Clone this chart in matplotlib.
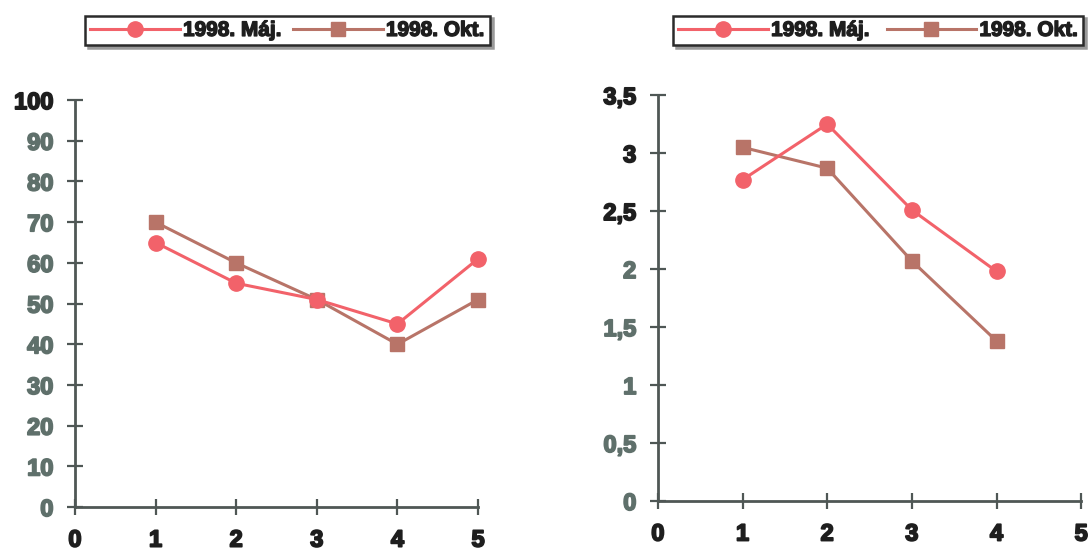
import matplotlib
matplotlib.use("Agg")
import matplotlib.pyplot as plt
import matplotlib.patheffects as pe

plt.rcParams['font.family'] = ['Liberation Sans', 'DejaVu Sans']
plt.rcParams['font.weight'] = 'bold'

# survey waves
labels = ["1998. Máj.", "1998. Okt."]
x_left = [1, 2, 3, 4, 5]
may_left = [65, 55, 51, 45, 61]
oct_left = [70, 60, 51, 40, 51]

x_right = [1, 2, 3, 4]
may_right = [2.77, 3.25, 2.51, 1.98]
oct_right = [3.05, 2.87, 2.07, 1.38]

left_yticks = [0, 10, 20, 30, 40, 50, 60, 70, 80, 90, 100]
right_yticks = [0, 0.5, 1, 1.5, 2, 2.5, 3, 3.5]
right_ylabels = ["0", "0,5", "1", "1,5", "2", "2,5", "3", "3,5"]
xticks = [0, 1, 2, 3, 4, 5]

MAY = "#f2626a"
OKT = "#b87468"
AXC = "#4f5755"
GREEN = "#5f706b"
DARK = "#1e1e1e"

fig = plt.figure(figsize=(10.91, 5.53), dpi=100)
axL = fig.add_axes([0.0687, 0.083, 0.3695, 0.736])
axR = fig.add_axes([0.603, 0.094, 0.388, 0.734])


def heavy(t, w=1.3):
    # thicken glyphs a little
    t.set_path_effects([pe.withStroke(linewidth=w, foreground=t.get_color())])


def style(ax):
    for s in ["top", "right"]:
        ax.spines[s].set_visible(False)
    for s in ["left", "bottom"]:
        ax.spines[s].set_color(AXC)
        ax.spines[s].set_linewidth(2)
    ax.tick_params(direction="inout", length=11, width=1.6, color=AXC,
                   labelsize=17)
    ax.tick_params(axis="y", pad=10)
    ax.tick_params(axis="x", pad=10, labelcolor=DARK)
    ax.set_xlim(0, 5)
    ax.set_xticks(xticks)


def plot_series(ax, x, may, okt):
    ax.plot(x, may, color=MAY, lw=2.2, marker="o", ms=11, label=labels[0],
            zorder=3, clip_on=False)
    ax.plot(x, okt, color=OKT, lw=2.2, marker="s", ms=10, label=labels[1],
            zorder=2, clip_on=False)


plot_series(axL, x_left, may_left, oct_left)
style(axL)
axL.set_ylim(0, 100)
axL.set_yticks(left_yticks)
for t in axL.get_yticklabels():
    t.set_color(GREEN)
axL.get_yticklabels()[-1].set_color(DARK)

plot_series(axR, x_right, may_right, oct_right)
style(axR)
axR.set_ylim(0, 3.5)
axR.set_yticks(right_yticks)
axR.set_yticklabels(right_ylabels)
for i, t in enumerate(axR.get_yticklabels()):
    t.set_color(DARK if right_yticks[i] > 2 else GREEN)

for ax in (axL, axR):
    for t in ax.get_xticklabels() + ax.get_yticklabels():
        heavy(t)


def legend_box(ax, x0, w):
    leg = ax.legend(loc="center", bbox_to_anchor=(x0, 0.914, w, 0.062),
                    bbox_transform=fig.transFigure, mode="expand", ncol=2,
                    handlelength=4.3, fontsize=15, frameon=True, fancybox=False,
                    shadow={"color": "#9a9a9a", "alpha": 1}, borderpad=0.25,
                    columnspacing=0.5, handletextpad=0.15, borderaxespad=0)
    leg.get_frame().set_edgecolor("#2b2b2b")
    leg.get_frame().set_linewidth(1.8)
    for t in leg.get_texts():
        t.set_color(DARK)
        heavy(t, 1.0)
    return leg


legend_box(axL, 0.078, 0.371)
legend_box(axR, 0.617, 0.376)

fig.savefig("out.png", dpi=100)
